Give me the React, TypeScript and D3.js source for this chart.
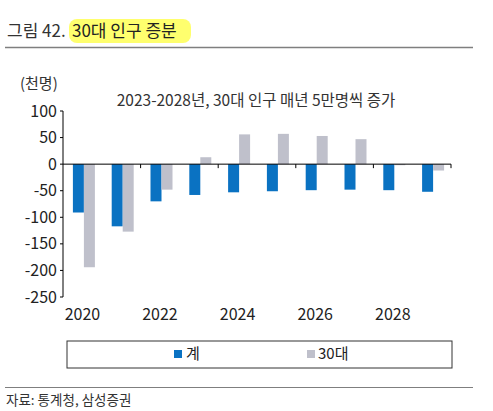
import React from "react";
import * as d3 from "d3";

const years = ["2020", "2021", "2022", "2023", "2024", "2025", "2026", "2027", "2028", "2029"];
const totalValues = [-91, -117, -70, -58, -53, -51, -49, -48, -49, -52];
const thirtiesValues = [-194, -127, -48, 13, 56, 57, 53, 47, -2, -12];
const yTicks = [100, 50, 0, -50, -100, -150, -200, -250];
const xLabelYears = ["2020", "2022", "2024", "2026", "2028"];
const seriesNames = ["계", "30대"];

const BLUE = "#0A72C2";
const GRAY = "#BFC0CB";
const FONT = "'Noto Sans CJK KR', 'Noto Sans', sans-serif";

export default function App() {
  const W = 493, H = 411;
  const left = 63, right = 451, top = 111, bottom = 297;
  const x = d3.scaleBand().domain(years).range([left, right]).paddingInner(0).paddingOuter(0);
  const y = d3.scaleLinear().domain([-250, 100]).range([bottom, top]);
  const barW = 11;
  const y0 = y(0);
  const bw = x.bandwidth();
  const tickXs = [2, 4, 6, 8, 10].map((i) => left + i * bw);

  return (
    <svg width={W} height={H} style={{ position: "absolute", left: 0, top: 0, fontFamily: FONT }}>
      <rect x={0} y={0} width={W} height={H} fill="#fff" />
      {/* title */}
      <rect x={69} y={19} width={122} height={24} rx={8} fill="#FFFF6E" />
      <text x={7} y={37} fontSize={17} fill="#333" fontWeight={400}>그림 42.</text>
      <text x={72} y={37} fontSize={17} fill="#222" fontWeight={400}>30대 인구 증분</text>
      <line x1={5} x2={473} y1={47.5} y2={47.5} stroke="#7f7f7f" strokeWidth={1.3} />

      {/* unit and subtitle */}
      <text x={20} y={89} fontSize={15} fill="#333">(천명)</text>
      <text x={256} y={106} fontSize={15.5} fill="#333" textAnchor="middle">2023-2028년, 30대 인구 매년 5만명씩 증가</text>

      {/* bars */}
      {years.map((yr, i) => {
        const cx = (x(yr) as number) + bw / 2 + 1.5;
        const v1 = totalValues[i];
        const v2 = thirtiesValues[i];
        return (
          <g key={yr}>
            <rect x={cx - barW} y={Math.min(y(v1), y0)} width={barW} height={Math.abs(y(v1) - y0)} fill={BLUE} />
            <rect x={cx} y={Math.min(y(v2), y0)} width={barW} height={Math.abs(y(v2) - y0)} fill={GRAY} />
          </g>
        );
      })}

      {/* y axis */}
      <line x1={left} x2={left} y1={top} y2={bottom} stroke="#000" strokeWidth={1} />
      {yTicks.map((t) => (
        <g key={t}>
          <line x1={left - 3} x2={left} y1={y(t)} y2={y(t)} stroke="#000" />
          <text x={57} y={y(t)} dy="0.35em" fontSize={16} fill="#222" textAnchor="end">{t}</text>
        </g>
      ))}

      {/* x axis */}
      <line x1={left} x2={right} y1={y0} y2={y0} stroke="#000" strokeWidth={1} />
      {tickXs.map((tx, i) => (
        <line key={i} x1={tx} x2={tx} y1={y0} y2={y0 + 4} stroke="#000" />
      ))}
      {xLabelYears.map((yr) => (
        <text key={yr} x={(x(yr) as number) + bw / 2} y={320} fontSize={16} fill="#222" textAnchor="middle">{yr}</text>
      ))}

      {/* legend */}
      <rect x={67} y={341} width={385} height={27} fill="#fff" stroke="#333" strokeWidth={1} />
      <rect x={174} y={350} width={8} height={8} fill={BLUE} />
      <text x={186} y={359} fontSize={15} fill="#222">{seriesNames[0]}</text>
      <rect x={307} y={350} width={8} height={8} fill={GRAY} />
      <text x={318} y={359} fontSize={15} fill="#222">{seriesNames[1]}</text>

      {/* footer */}
      <line x1={5} x2={473} y1={387.5} y2={387.5} stroke="#7f7f7f" strokeWidth={1} />
      <text x={6} y={405} fontSize={13.5} fill="#333">자료: 통계청, 삼성증권</text>
    </svg>
  );
}
